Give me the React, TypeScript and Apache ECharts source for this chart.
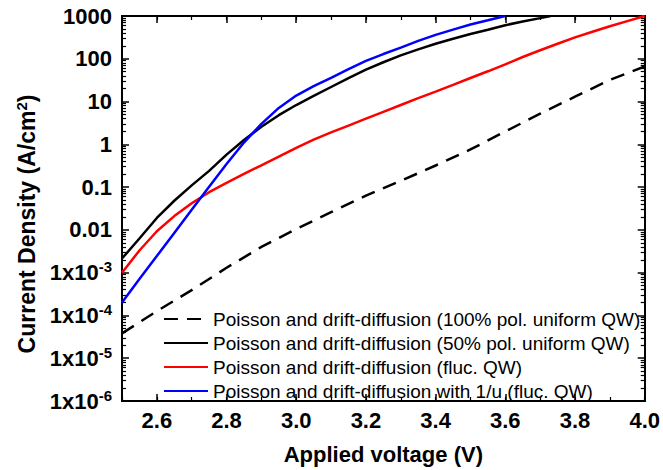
import React, { useEffect, useRef } from "react";
import * as echarts from "echarts";

// ---- Data ----
const voltageDashed = [2.5, 2.6, 2.7, 2.8, 2.9, 3.0, 3.1, 3.2, 3.3, 3.4, 3.5, 3.6, 3.7, 3.8, 3.9, 4.0];
const currentDashed = [3.8e-5, 1.26e-4, 3.9e-4, 1.3e-3, 4.0e-3, 1.05e-2, 2.6e-2, 6.3e-2, 0.14, 0.32, 0.76, 2.0, 5.2, 13, 32, 66];

const voltageBlack = [2.5, 2.55, 2.6, 2.65, 2.7, 2.75, 2.8, 2.85, 2.9, 2.95, 3.0, 3.05, 3.1, 3.15, 3.2, 3.25, 3.3, 3.35, 3.4, 3.45, 3.5, 3.55, 3.6, 3.65, 3.7, 3.73];
const currentBlack = [2.14e-3, 6.3e-3, 1.9e-2, 4.8e-2, 0.11, 0.24, 0.575, 1.26, 2.57, 4.8, 8.3, 13.5, 21.9, 35.5, 56, 83, 120, 166, 224, 295, 380, 479, 610, 741, 891, 1000];

const voltageRed = [2.5, 2.55, 2.6, 2.65, 2.7, 2.75, 2.8, 2.85, 2.9, 2.95, 3.0, 3.05, 3.1, 3.15, 3.2, 3.25, 3.3, 3.35, 3.4, 3.45, 3.5, 3.55, 3.6, 3.65, 3.7, 3.75, 3.8, 3.85, 3.9, 3.95, 4.0];
const currentRed = [1.0e-3, 3.3e-3, 9.3e-3, 2.1e-2, 4.2e-2, 7.6e-2, 0.126, 0.204, 0.324, 0.513, 0.83, 1.29, 1.9, 2.75, 3.98, 5.75, 8.3, 12, 17, 24.5, 35.5, 51, 74, 110, 158, 224, 316, 427, 575, 759, 1000];

const voltageBlue = [2.5, 2.55, 2.6, 2.65, 2.7, 2.75, 2.8, 2.85, 2.9, 2.95, 3.0, 3.05, 3.1, 3.15, 3.2, 3.25, 3.3, 3.35, 3.4, 3.45, 3.5, 3.55, 3.6];
const currentBlue = [2.0e-4, 7.1e-4, 2.45e-3, 8.5e-3, 2.95e-2, 0.102, 0.347, 1.1, 3.0, 7.1, 13.8, 22.9, 36, 57.5, 89, 129, 182, 263, 363, 479, 631, 794, 1000];

const seriesNames = [
  "Poisson and drift-diffusion (100% pol. uniform QW)",
  "Poisson and drift-diffusion (50% pol. uniform QW)",
  "Poisson and drift-diffusion (fluc. QW)",
  "Poisson and drift-diffusion with 1/u (fluc. QW)",
];

const xMajorTicks = [2.6, 2.8, 3.0, 3.2, 3.4, 3.6, 3.8, 4.0];
const yMajorTicks = [1e-6, 1e-5, 1e-4, 1e-3, 0.01, 0.1, 1, 10, 100, 1000];
const yMinorTicks: number[] = [];
for (let e = -6; e <= 2; e++) {
  for (let m = 2; m <= 9; m++) yMinorTicks.push(Number((m * Math.pow(10, e)).toPrecision(3)));
}

const FONT = 'Arial, "Liberation Sans", Helvetica, sans-serif';

function pairs(xs: number[], ys: number[]) {
  return xs.map((x, i) => [x, ys[i]]);
}

export default function App() {
  const ref = useRef<HTMLDivElement>(null);
  useEffect(() => {
    if (!ref.current) return;
    const chart = echarts.init(ref.current, null, { renderer: "svg" });
    const axisLine = { show: true, onZero: false, lineStyle: { color: "#000", width: 2 } };
    const xBase = {
      type: "value",
      min: 2.5,
      max: 4.0,
      axisLine,
      splitLine: { show: false },
    };
    const yBase = {
      type: "log",
      logBase: 10,
      min: 1e-6,
      max: 1000,
      axisLine,
      splitLine: { show: false },
      minorTick: { show: false },
    };
    const yLabel = (v: number) => {
      if (v >= 0.01) {
        if (v >= 1) return String(Math.round(v));
        return v === 0.1 ? "0.1" : "0.01";
      }
      const e = Math.round(Math.log10(v));
      return `{b|1x10}{s|${e}}`;
    };
    const lineCommon = { type: "line", showSymbol: false, symbol: "none", smooth: false };
    chart.setOption({
      animation: false,
      backgroundColor: "#fff",
      grid: { left: 122, right: 16, top: 16, bottom: 68 },
      legend: {
        orient: "vertical",
        left: 158,
        top: 304,
        itemWidth: 44,
        itemHeight: 14,
        itemGap: 4,
        itemStyle: { opacity: 0, borderWidth: 0 },
        textStyle: { fontFamily: FONT, fontSize: 19, color: "#000", lineHeight: 20 },
        data: seriesNames,
      },
      xAxis: [
        {
          ...xBase,
          position: "bottom",
          axisTick: { show: true, inside: true, length: 7, customValues: xMajorTicks, lineStyle: { width: 1.5, color: "#000" } },
          axisLabel: {
            show: true,
            customValues: xMajorTicks,
            formatter: (v: number) => v.toFixed(1),
            fontFamily: FONT,
            fontWeight: "bold",
            fontSize: 22,
            color: "#000",
            margin: 8,
          },
          name: "Applied voltage (V)",
          nameLocation: "middle",
          nameGap: 42,
          nameTextStyle: { fontFamily: FONT, fontWeight: "bold", fontSize: 22, color: "#000" },
        },
        {
          ...xBase,
          position: "bottom",
          interval: 0.1,
          axisTick: { show: true, inside: true, length: 4, lineStyle: { width: 1.2, color: "#000" } },
          axisLabel: { show: false },
        },
        {
          ...xBase,
          position: "top",
          axisTick: { show: true, inside: true, length: 7, customValues: xMajorTicks, lineStyle: { width: 1.5, color: "#000" } },
          axisLabel: { show: false },
        },
        {
          ...xBase,
          position: "top",
          interval: 0.1,
          axisTick: { show: true, inside: true, length: 4, lineStyle: { width: 1.2, color: "#000" } },
          axisLabel: { show: false },
        },
      ],
      yAxis: [
        {
          ...yBase,
          position: "left",
          axisTick: { show: true, inside: true, length: 7, customValues: yMajorTicks, lineStyle: { width: 1.5, color: "#000" } },
          axisLabel: {
            show: true,
            customValues: yMajorTicks,
            formatter: yLabel,
            fontFamily: FONT,
            fontWeight: "bold",
            fontSize: 22,
            color: "#000",
            margin: 10,
            rich: {
              b: { fontFamily: FONT, fontWeight: "bold", fontSize: 22, color: "#000" },
              s: { fontFamily: FONT, fontWeight: "bold", fontSize: 15, color: "#000", padding: [0, 0, 12, 0] },
            },
          },
        },
        {
          ...yBase,
          position: "left",
          axisTick: { show: true, inside: true, length: 4, customValues: yMinorTicks, lineStyle: { width: 1.2, color: "#000" } },
          axisLabel: { show: false },
        },
        {
          ...yBase,
          position: "right",
          axisTick: { show: true, inside: true, length: 7, customValues: yMajorTicks, lineStyle: { width: 1.5, color: "#000" } },
          axisLabel: { show: false },
        },
        {
          ...yBase,
          position: "right",
          axisTick: { show: true, inside: true, length: 4, customValues: yMinorTicks, lineStyle: { width: 1.2, color: "#000" } },
          axisLabel: { show: false },
        },
      ],
      graphic: [
        {
          type: "text",
          x: 27,
          y: 224,
          rotation: Math.PI / 2,
          style: {
            text: "{n|Current Density (A/cm}{s|2}{n|)}",
            align: "center",
            verticalAlign: "middle",
            fill: "#000",
            rich: {
              n: { fontFamily: FONT, fontWeight: "bold", fontSize: 23, fill: "#000" },
              s: { fontFamily: FONT, fontWeight: "bold", fontSize: 15, fill: "#000", padding: [0, 0, 12, 0] },
            },
          },
        },
      ],
      series: [
        {
          ...lineCommon,
          name: seriesNames[0],
          data: pairs(voltageDashed, currentDashed),
          lineStyle: { color: "#000", width: 2.5, type: [14, 9] },
          itemStyle: { color: "#000" },
        },
        {
          ...lineCommon,
          name: seriesNames[1],
          data: pairs(voltageBlack, currentBlack),
          lineStyle: { color: "#000", width: 2.5 },
          itemStyle: { color: "#000" },
        },
        {
          ...lineCommon,
          name: seriesNames[2],
          data: pairs(voltageRed, currentRed),
          lineStyle: { color: "#ff0000", width: 2.5 },
          itemStyle: { color: "#ff0000" },
        },
        {
          ...lineCommon,
          name: seriesNames[3],
          data: pairs(voltageBlue, currentBlue),
          lineStyle: { color: "#0000ff", width: 2.5 },
          itemStyle: { color: "#0000ff" },
        },
      ],
    });
    return () => chart.dispose();
  }, []);
  return <div ref={ref} style={{ position: "fixed", left: 0, top: 0, width: 663, height: 470 }} />;
}
